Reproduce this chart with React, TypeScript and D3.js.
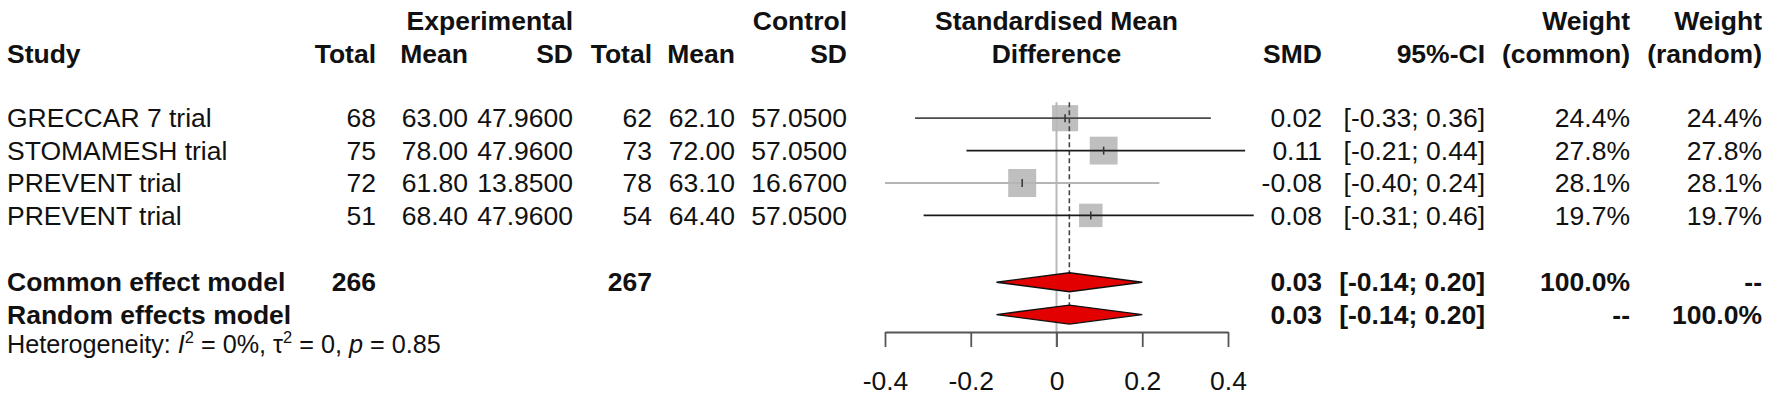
import * as React from 'react';
import * as d3 from 'd3';
import {Component} from 'react';

// study level data
const studies = ['GRECCAR 7 trial', 'STOMAMESH trial', 'PREVENT trial', 'PREVENT trial'];
const expTotal = [68, 75, 72, 51];
const expMean = [63.0, 78.0, 61.8, 68.4];
const expSd = [47.96, 47.96, 13.85, 47.96];
const ctrlTotal = [62, 73, 78, 54];
const ctrlMean = [62.1, 72.0, 63.1, 64.4];
const ctrlSd = [57.05, 57.05, 16.67, 57.05];
const smd = [0.02, 0.11, -0.08, 0.08];
const ciLower = [-0.33, -0.21, -0.40, -0.31];
const ciUpper = [0.36, 0.44, 0.24, 0.46];
const weightCommon = [24.4, 27.8, 28.1, 19.7];
const weightRandom = [24.4, 27.8, 28.1, 19.7];

// pooled models
const models = ['Common effect model', 'Random effects model'];
const modelTotalExp = [266, null];
const modelTotalCtrl = [267, null];
const modelSmd = [0.03, 0.03];
const modelLower = [-0.14, -0.14];
const modelUpper = [0.20, 0.20];
const modelWeightCommon = [100.0, null];
const modelWeightRandom = [null, 100.0];

const hetI2 = 0;
const hetTau2 = 0;
const hetP = 0.85;

const axisTicks = [-0.4, -0.2, 0, 0.2, 0.4];

const FONT = '"Liberation Sans", Arial, sans-serif';
const FS = 26.5;
const ciColors = ['#4a4a4a', '#1a1a1a', '#b5b5b5', '#1a1a1a'];

interface ILayout {
    width: number;
    height: number;
    rowTop: number;
    rowStep: number;
    xPlot: [number, number];
    axisY: number;
}

const layout: ILayout = {
    width: 1772,
    height: 396,
    rowTop: 21,
    rowStep: 32.4,
    xPlot: [885, 1228],
    axisY: 332,
};

// right edges of text columns
const col = {
    study: 7,
    expTotal: 376,
    expMean: 468,
    expSd: 573,
    ctrlTotal: 652,
    ctrlMean: 735,
    ctrlSd: 847,
    smd: 1322,
    ci: 1485,
    wCommon: 1630,
    wRandom: 1762,
};

export default class App extends Component {
    private svgRef: any = React.createRef<SVGSVGElement>();

    componentDidMount(): void {
        const svg = d3.select(this.svgRef.current);
        svg.selectAll('*').remove();
        const xScale = d3.scaleLinear().domain([-0.4, 0.4]).range(layout.xPlot);
        const rowY = (i: number) => layout.rowTop + layout.rowStep * i + (i >= 8 ? 2 : 0);
        appendHeaders(svg, rowY);
        appendStudyRows(svg, rowY);
        appendModelRows(svg, rowY);
        appendForest(svg, xScale, rowY);
        appendAxis(svg, xScale);
    }

    render() {
        return (
            <svg ref={this.svgRef} xmlns="http://www.w3.org/2000/svg" width={layout.width} height={layout.height}
                 style={{position: 'absolute', left: 0, top: 0, background: '#fff'}}>
            </svg>
        );
    }
}

function addText(g: any, x: number, y: number, txt: string, anchor: string, bold = false, size = FS) {
    return g.append('text')
        .attr('x', x)
        .attr('y', y)
        .attr('dy', '0.35em')
        .attr('text-anchor', anchor)
        .attr('font-family', FONT)
        .attr('font-size', size)
        .attr('font-weight', bold ? 'bold' : 'normal')
        .attr('fill', '#111')
        .text(txt);
}

function appendHeaders(svg: any, rowY: (i: number) => number) {
    const g = svg.append('g');
    const plotMid = (layout.xPlot[0] + layout.xPlot[1]) / 2;
    addText(g, col.expSd, rowY(0), 'Experimental', 'end', true);
    addText(g, col.ctrlSd, rowY(0), 'Control', 'end', true);
    addText(g, plotMid, rowY(0), 'Standardised Mean', 'middle', true);
    addText(g, col.wCommon, rowY(0), 'Weight', 'end', true);
    addText(g, col.wRandom, rowY(0), 'Weight', 'end', true);

    addText(g, col.study, rowY(1), 'Study', 'start', true);
    addText(g, col.expTotal, rowY(1), 'Total', 'end', true);
    addText(g, col.expMean, rowY(1), 'Mean', 'end', true);
    addText(g, col.expSd, rowY(1), 'SD', 'end', true);
    addText(g, col.ctrlTotal, rowY(1), 'Total', 'end', true);
    addText(g, col.ctrlMean, rowY(1), 'Mean', 'end', true);
    addText(g, col.ctrlSd, rowY(1), 'SD', 'end', true);
    addText(g, plotMid, rowY(1), 'Difference', 'middle', true);
    addText(g, col.smd, rowY(1), 'SMD', 'end', true);
    addText(g, col.ci, rowY(1), '95%-CI', 'end', true);
    addText(g, col.wCommon, rowY(1), '(common)', 'end', true);
    addText(g, col.wRandom, rowY(1), '(random)', 'end', true);
}

function appendStudyRows(svg: any, rowY: (i: number) => number) {
    const g = svg.append('g');
    studies.forEach((name, i) => {
        const y = rowY(i + 3);
        addText(g, col.study, y, name, 'start');
        addText(g, col.expTotal, y, String(expTotal[i]), 'end');
        addText(g, col.expMean, y, expMean[i].toFixed(2), 'end');
        addText(g, col.expSd, y, expSd[i].toFixed(4), 'end');
        addText(g, col.ctrlTotal, y, String(ctrlTotal[i]), 'end');
        addText(g, col.ctrlMean, y, ctrlMean[i].toFixed(2), 'end');
        addText(g, col.ctrlSd, y, ctrlSd[i].toFixed(4), 'end');
        addText(g, col.smd, y, smd[i].toFixed(2), 'end');
        addText(g, col.ci, y, `[${ciLower[i].toFixed(2)}; ${ciUpper[i].toFixed(2)}]`, 'end');
        addText(g, col.wCommon, y, `${weightCommon[i].toFixed(1)}%`, 'end');
        addText(g, col.wRandom, y, `${weightRandom[i].toFixed(1)}%`, 'end');
    });
}

function appendModelRows(svg: any, rowY: (i: number) => number) {
    const g = svg.append('g');
    const pct = (v: number | null) => v === null ? '--' : `${v.toFixed(1)}%`;
    models.forEach((name, i) => {
        const y = rowY(i + 8);
        addText(g, col.study, y, name, 'start', true);
        if (modelTotalExp[i] !== null) addText(g, col.expTotal, y, String(modelTotalExp[i]), 'end', true);
        if (modelTotalCtrl[i] !== null) addText(g, col.ctrlTotal, y, String(modelTotalCtrl[i]), 'end', true);
        addText(g, col.smd, y, modelSmd[i].toFixed(2), 'end', true);
        addText(g, col.ci, y, `[${modelLower[i].toFixed(2)}; ${modelUpper[i].toFixed(2)}]`, 'end', true);
        addText(g, col.wCommon, y, pct(modelWeightCommon[i]), 'end', true);
        addText(g, col.wRandom, y, pct(modelWeightRandom[i]), 'end', true);
    });

    // heterogeneity line
    const t = g.append('text')
        .attr('x', col.study)
        .attr('y', rowY(10) - 3)
        .attr('dy', '0.35em')
        .attr('font-family', FONT)
        .attr('font-size', 25.2)
        .attr('fill', '#111');
    t.append('tspan').text('Heterogeneity: ');
    t.append('tspan').attr('font-style', 'italic').text('I');
    t.append('tspan').attr('font-size', 16.5).attr('dy', -10).text('2');
    t.append('tspan').attr('dy', 10).text(` = ${hetI2}%, \u03c4`);
    t.append('tspan').attr('font-size', 16.5).attr('dy', -10).text('2');
    t.append('tspan').attr('dy', 10).text(` = ${hetTau2}, `);
    t.append('tspan').attr('font-style', 'italic').text('p');
    t.append('tspan').text(` = ${hetP.toFixed(2)}`);
}

function appendForest(svg: any, xScale: any, rowY: (i: number) => number) {
    const g = svg.append('g');
    const maxW = d3.max(weightCommon) as number;
    const boxSize = d3.scaleSqrt().domain([0, maxW]).range([0, 28]);

    // boxes
    g.selectAll('rect.box').data(smd).enter().append('rect')
        .attr('class', 'box')
        .attr('x', (d: number, i: number) => xScale(d) - boxSize(weightCommon[i]) / 2)
        .attr('y', (d: number, i: number) => rowY(i + 3) - boxSize(weightCommon[i]) / 2)
        .attr('width', (d: number, i: number) => boxSize(weightCommon[i]))
        .attr('height', (d: number, i: number) => boxSize(weightCommon[i]))
        .attr('fill', '#bfbfbf');

    // reference line at zero
    g.append('line')
        .attr('x1', xScale(0)).attr('x2', xScale(0))
        .attr('y1', rowY(3) - 16).attr('y2', layout.axisY + 15)
        .attr('stroke', '#b8b8b8').attr('stroke-width', 2);

    // pooled estimate dashed line
    g.append('line')
        .attr('x1', xScale(modelSmd[0])).attr('x2', xScale(modelSmd[0]))
        .attr('y1', rowY(3) - 16).attr('y2', rowY(9) + 10)
        .attr('stroke', '#444').attr('stroke-width', 1.6)
        .attr('stroke-dasharray', '5,3');

    // confidence intervals
    g.selectAll('line.ci').data(smd).enter().append('line')
        .attr('class', 'ci')
        .attr('x1', (d: number, i: number) => xScale(ciLower[i]))
        .attr('x2', (d: number, i: number) => xScale(ciUpper[i]))
        .attr('y1', (d: number, i: number) => rowY(i + 3))
        .attr('y2', (d: number, i: number) => rowY(i + 3))
        .attr('stroke', (d: number, i: number) => ciColors[i])
        .attr('stroke-width', 1.8);

    // point estimate marks
    g.selectAll('line.est').data(smd).enter().append('line')
        .attr('class', 'est')
        .attr('x1', (d: number) => xScale(d))
        .attr('x2', (d: number) => xScale(d))
        .attr('y1', (d: number, i: number) => rowY(i + 3) - 4)
        .attr('y2', (d: number, i: number) => rowY(i + 3) + 4)
        .attr('stroke', '#333').attr('stroke-width', 1.5);

    // diamonds
    const h = 9.5;
    g.selectAll('path.diamond').data(modelSmd).enter().append('path')
        .attr('class', 'diamond')
        .attr('d', (d: number, i: number) => {
            const y = rowY(i + 8);
            const p = d3.path();
            p.moveTo(xScale(modelLower[i]), y);
            p.lineTo(xScale(d), y - h);
            p.lineTo(xScale(modelUpper[i]), y);
            p.lineTo(xScale(d), y + h);
            p.closePath();
            return p.toString();
        })
        .attr('fill', '#e30000')
        .attr('stroke', '#111')
        .attr('stroke-width', 1.4);
}

function appendAxis(svg: any, xScale: any) {
    const axisG = svg.append('g')
        .attr('transform', `translate(0 ${layout.axisY})`);
    const axis = d3.axisBottom(xScale)
        .tickValues(axisTicks)
        .tickSize(15)
        .tickSizeOuter(0)
        .tickPadding(24)
        .tickFormat((d: any) => d === 0 ? '0' : String(d));
    axisG.call(axis);
    axisG.select('.domain').attr('stroke', '#555').attr('stroke-width', 1.8);
    axisG.selectAll('.tick line').attr('stroke', '#555').attr('stroke-width', 1.8);
    axisG.selectAll('.tick text')
        .attr('font-family', FONT)
        .attr('font-size', FS)
        .attr('fill', '#111');
}
